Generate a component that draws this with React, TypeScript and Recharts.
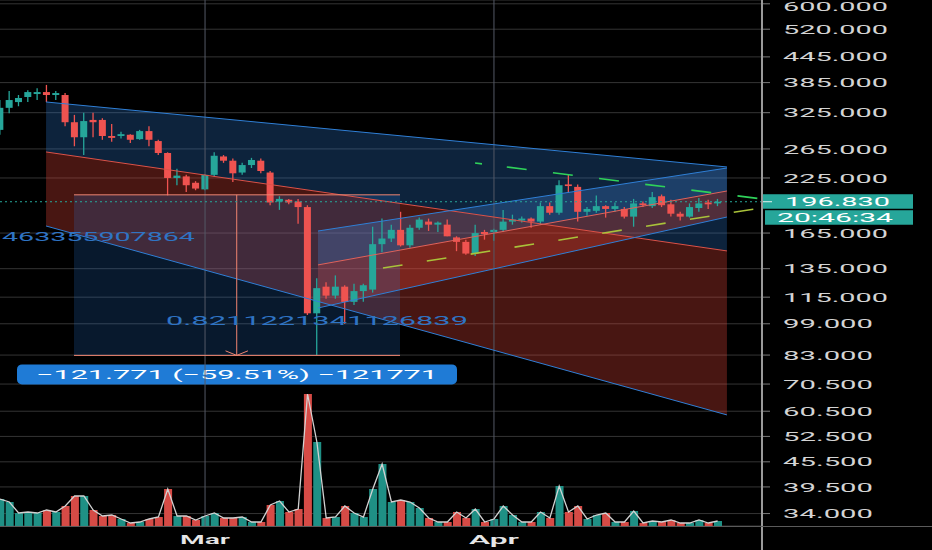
import {
  Area,
  Bar,
  CartesianGrid,
  Cell,
  ComposedChart,
  Line,
  ReferenceArea,
  ReferenceDot,
  ReferenceLine,
  XAxis,
  YAxis,
} from "recharts"

// daily candles, index 0 = Feb 7, index 22 = Mar 1, index 53 = Apr 1
const opens = [
  295, 334, 345, 355, 361, 365, 359, 359, 308, 283, 312, 312, 285, 285, 287, 280, 293, 277, 259, 225,
  227, 219, 211, 229, 254, 248, 232, 242, 248, 232, 197, 199, 197, 191, 105, 122, 116, 122, 112, 119,
  120, 155, 160, 168, 154, 170, 176, 173, 173, 161, 157, 147, 166, 166, 168, 176, 177, 179, 176, 192,
  185, 217, 214, 186, 187, 192, 189, 189, 181, 195, 192, 203, 194, 184, 181, 190, 196, 195,
]
const highs = [
  349, 367, 359, 369, 373, 380, 367, 363, 321, 325, 325, 315, 305, 292, 288, 295, 301, 279, 260, 237,
  229, 221, 230, 260, 256, 251, 245, 252, 251, 234, 203, 200, 200, 193, 128, 125, 130, 123, 124, 124,
  171, 179, 173, 186, 173, 180, 179, 176, 178, 162, 159, 173, 168, 169, 188, 183, 181, 180, 196, 196,
  222, 229, 217, 191, 204, 193, 196, 191, 200, 197, 208, 205, 199, 186, 195, 201, 199, 200,
]
const lows = [
  287, 324, 337, 345, 349, 345, 349, 301, 269, 256, 283, 279, 276, 281, 274, 279, 269, 256, 204, 216,
  208, 210, 210, 227, 245, 220, 229, 238, 231, 193, 188, 194, 174, 104, 83, 114, 114, 99, 110, 112,
  118, 148, 157, 153, 152, 168, 167, 166, 162, 149, 146, 145, 159, 158, 166, 173, 175, 170, 173, 183,
  183, 207, 176, 182, 185, 180, 186, 179, 171, 191, 190, 191, 181, 177, 180, 186, 189, 192,
]
const closes = [
  334, 349, 353, 365, 365, 359, 363, 308, 283, 310, 308, 285, 282, 288, 279, 293, 279, 259, 225, 228,
  216, 212, 229, 255, 248, 231, 242, 249, 234, 196, 200, 196, 191, 105, 121, 116, 122, 112, 119, 123,
  155, 160, 168, 154, 170, 178, 173, 175, 162, 157, 147, 165, 164, 168, 176, 178, 179, 176, 192, 185,
  216, 215, 186, 189, 192, 189, 192, 181, 195, 193, 202, 193, 184, 181, 191, 195, 194, 196.83,
]
const volumes = [
  27, 24, 13, 14, 13, 16, 14, 20, 30, 30, 16, 10, 11, 7, 3, 4, 7, 9, 37, 10,
  10, 6, 10, 13, 8, 8, 9, 4, 4, 21, 25, 14, 17, 132, 84, 8, 9, 20, 13, 9,
  37, 62, 24, 26, 24, 18, 8, 4, 4, 14, 8, 17, 4, 7, 20, 11, 4, 4, 14, 8,
  40, 14, 20, 7, 11, 13, 4, 4, 15, 3, 5, 4, 6, 3, 3, 6, 3, 5,
]

const monthTicks = [22, 53]
const monthLabels = ["Mar", "Apr"]
const priceTicks = [600, 520, 445, 385, 325, 265, 225, 165, 135, 115, 99, 83, 70.5, 60.5, 52.5, 45.5, 39.5, 34]
const lastPrice = 196.83
const countdown = "20:46:34"

// falling channel (day index, price)
const fallX = [4.94, 78.0]
const fallTop = [345.2, 239.4]
const fallMid = [260.5, 149.2]
const fallLow = [171.7, 59.25]
// rising channel
const riseX = [34.12, 78.0]
const riseTop = [166.9, 238.0]
const riseMid = [137.9, 209.1]
const riseLow = [108.2, 180.6]
// price range tool
const rangeX = [7.94, 42.92]
const rangePrice = [82.85, 204.62]
const rangeArrowX = 25.4
const rangeArrowHead = [85.0, 82.85]
const rangeText = "\u2212121.771 (\u221259.51%) \u2212121771"
// dashed trend lines
const greenX = [50.97, 81.76]
const greenY = [244.8, 199.9]
const oliveX = [41.09, 81.76]
const oliveY = [135.5, 190.2]
// leftover drawing labels
const fibTexts = [
  { x: 20.92, y: 161.4, text: "463355907864", anchor: "end", width: 193 },
  { x: 17.81, y: 100.6, text: "0.8211221341126839", anchor: "start", width: 302 },
]

const UP = "#26a69a"
const DOWN = "#ef5350"
const BLUE = "#2f7fd6"
const SALMON = "#f08570"
const FONT = "Roboto, 'DejaVu Sans', sans-serif"
const X_DOMAIN = [0, 81.76]

function Candle(props: any) {
  const { x, y, width, height, payload } = props
  if (!payload || height == null) return null
  const top = Math.min(y, y + height)
  const bottom = Math.max(y, y + height)
  const lh = Math.log(payload.high)
  const ll = Math.log(payload.low)
  const toY = (v: number) => (lh === ll ? top : top + ((bottom - top) * (lh - Math.log(v))) / (lh - ll))
  const up = payload.close >= payload.open
  const color = up ? UP : DOWN
  const cx = x + width / 2
  const bTop = toY(Math.max(payload.open, payload.close))
  const bBot = toY(Math.min(payload.open, payload.close))
  return (
    <g>
      <line x1={cx} x2={cx} y1={top} y2={bottom} stroke={color} strokeWidth={1.3} />
      <rect x={cx - 3.5} y={bTop} width={7} height={Math.max(1.5, bBot - bTop)} fill={color} />
    </g>
  )
}

function PriceTick({ x, y, payload }: any) {
  const s = Number(payload.value).toFixed(3)
  // keep the top label inside the picture
  const base = Math.max(y + 4.6, 10.5)
  return (
    <text x={x} y={base} fill="#d4d4d4" fontSize={12} fontFamily={FONT} textLength={s.length * 15} lengthAdjust="spacingAndGlyphs">
      {s}
    </text>
  )
}

function MonthTick({ x, y, payload }: any) {
  const label = monthLabels[monthTicks.indexOf(payload.value)]
  return (
    <text x={x} y={y + 9.5} textAnchor="middle" fill="#e6e6e6" fontSize={12} fontWeight={600} fontFamily={FONT} textLength={50} lengthAdjust="spacingAndGlyphs">
      {label}
    </text>
  )
}

function LastPriceTag({ viewBox }: any) {
  if (!viewBox) return null
  const left = viewBox.x + viewBox.width
  const y = viewBox.y
  return (
    <g fontFamily={FONT} fontSize={12}>
      <rect x={left} y={y - 7.5} width={151} height={14.5} fill={UP} />
      <line x1={left} x2={left + 10} y1={y} y2={y} stroke="#e8f6f4" strokeWidth={1} />
      <text x={left + 23} y={y + 4.3} fill="#ffffff" textLength={105} lengthAdjust="spacingAndGlyphs">
        {lastPrice.toFixed(3)}
      </text>
      <rect x={left + 3} y={y + 8.5} width={148} height={14.5} fill={UP} />
      <text x={left + 15} y={y + 20.2} fill="#ffffff" textLength={116} lengthAdjust="spacingAndGlyphs">
        {countdown}
      </text>
    </g>
  )
}

function RangeTag({ viewBox }: any) {
  if (!viewBox) return null
  const cx = viewBox.x + viewBox.width / 2
  const top = viewBox.y + viewBox.height + 9
  return (
    <g fontFamily={FONT} fontSize={12}>
      <rect x={cx - 220} y={top} width={440} height={20} rx={5} fill="#1f7bd6" />
      <text x={cx} y={top + 14.3} textAnchor="middle" fill="#ffffff" textLength={402} lengthAdjust="spacingAndGlyphs">
        {rangeText}
      </text>
    </g>
  )
}

function FibText({ viewBox, text, anchor, width }: any) {
  if (!viewBox) return null
  const x = anchor === "end" ? viewBox.x - width : viewBox.x
  return (
    <text x={x} y={viewBox.y + 4.3} fill="#2f74c4" fontSize={12} fontFamily={FONT} textLength={width} lengthAdjust="spacingAndGlyphs">
      {text}
    </text>
  )
}

const seg = (xs: number[], ys: number[]) => [
  { x: xs[0], y: ys[0] },
  { x: xs[1], y: ys[1] },
]

const band = (xs: number[], lo: number[], hi: number[]) => xs.map((x, k) => ({ x, band: [lo[k], hi[k]] }))

export default function App() {
  const data = opens.map((open, i) => ({
    x: i,
    open,
    high: highs[i],
    low: lows[i],
    close: closes[i],
    volume: volumes[i],
  }))

  return (
    <div style={{ position: "fixed", left: 0, top: 0, width: 932, height: 550, background: "#000", fontFamily: FONT }}>
      <ComposedChart width={932} height={550} data={data} margin={{ top: 0, right: 0, bottom: 0, left: 0 }}>
        <CartesianGrid vertical={false} stroke="#343434" yAxisId="price" />
        <XAxis
          dataKey="x"
          type="number"
          domain={X_DOMAIN}
          allowDataOverflow
          ticks={monthTicks}
          interval={0}
          height={24}
          axisLine={false}
          tickLine={false}
          tick={<MonthTick />}
        />
        <XAxis xAxisId="vol" dataKey="x" type="number" domain={X_DOMAIN} allowDataOverflow hide />
        <XAxis xAxisId="draw" dataKey="x" type="number" domain={X_DOMAIN} allowDataOverflow hide />
        <YAxis
          yAxisId="price"
          orientation="right"
          width={170}
          scale="log"
          domain={[31.7, 613]}
          allowDataOverflow
          ticks={priceTicks}
          interval={0}
          tickSize={8}
          tickMargin={13}
          tickLine={{ stroke: "#7a7a7a" }}
          axisLine={false}
          tick={<PriceTick />}
        />
        <YAxis yAxisId="vol" hide domain={[0, 526]} allowDataOverflow />

        <Area xAxisId="draw" data={band(fallX, fallMid, fallTop)} dataKey="band" yAxisId="price" type="linear" stroke="none" fill="#2f7ed8" fillOpacity={0.28} dot={false} activeDot={false} isAnimationActive={false} />
        <Area xAxisId="draw" data={band(fallX, fallLow, fallMid)} dataKey="band" yAxisId="price" type="linear" stroke="none" fill="#f04a3a" fillOpacity={0.3} dot={false} activeDot={false} isAnimationActive={false} />
        <Area xAxisId="draw" data={band(riseX, riseMid, riseTop)} dataKey="band" yAxisId="price" type="linear" stroke="none" fill="#4d93e6" fillOpacity={0.26} dot={false} activeDot={false} isAnimationActive={false} />
        <Area xAxisId="draw" data={band(riseX, riseLow, riseMid)} dataKey="band" yAxisId="price" type="linear" stroke="none" fill="#f04a3a" fillOpacity={0.3} dot={false} activeDot={false} isAnimationActive={false} />

        <ReferenceArea
          yAxisId="price"
          x1={rangeX[0]}
          x2={rangeX[1]}
          y1={rangePrice[0]}
          y2={rangePrice[1]}
          fill="#2a7de1"
          fillOpacity={0.2}
          stroke="none"
          ifOverflow="visible"
          label={<RangeTag />}
        />

        <ReferenceLine x={monthTicks[0]} yAxisId="price" stroke="#545866" />
        <ReferenceLine x={monthTicks[1]} yAxisId="price" stroke="#545866" />

        <ReferenceLine yAxisId="price" segment={seg(fallX, fallTop)} stroke={BLUE} ifOverflow="visible" />
        <ReferenceLine yAxisId="price" segment={seg(fallX, fallMid)} stroke="#dc5248" ifOverflow="visible" />
        <ReferenceLine yAxisId="price" segment={seg(fallX, fallLow)} stroke={BLUE} ifOverflow="visible" />
        <ReferenceLine yAxisId="price" segment={seg(riseX, riseTop)} stroke={BLUE} ifOverflow="visible" />
        <ReferenceLine yAxisId="price" segment={seg(riseX, riseMid)} stroke="#e0625a" ifOverflow="visible" />
        <ReferenceLine yAxisId="price" segment={seg(riseX, riseLow)} stroke={BLUE} ifOverflow="visible" />

        <ReferenceLine yAxisId="price" segment={seg(rangeX, [rangePrice[1], rangePrice[1]])} stroke={SALMON} ifOverflow="visible" />
        <ReferenceLine yAxisId="price" segment={seg(rangeX, [rangePrice[0], rangePrice[0]])} stroke={SALMON} ifOverflow="visible" />
        <ReferenceLine yAxisId="price" segment={seg([rangeArrowX, rangeArrowX], [rangePrice[1], rangePrice[0]])} stroke={SALMON} ifOverflow="visible" />
        <ReferenceLine yAxisId="price" segment={seg([rangeArrowX - 1.2, rangeArrowX], rangeArrowHead)} stroke={SALMON} ifOverflow="visible" />
        <ReferenceLine yAxisId="price" segment={seg([rangeArrowX + 1.2, rangeArrowX], rangeArrowHead)} stroke={SALMON} ifOverflow="visible" />

        <ReferenceLine yAxisId="price" segment={seg(greenX, greenY)} stroke="#2fd25a" strokeWidth={1.6} strokeDasharray="7 25 20 26.5 20 26.5 20 26.5 20 26.5 20 26.5 20 26.5" ifOverflow="visible" />
        <ReferenceLine yAxisId="price" segment={seg(oliveX, oliveY)} stroke="#a9c23a" strokeWidth={1.6} strokeDasharray="19.8 24.6" ifOverflow="visible" />

        <ReferenceLine yAxisId="price" y={lastPrice} stroke={UP} strokeDasharray="2 3" ifOverflow="visible" label={<LastPriceTag />} />

        {fibTexts.map((t) => (
          <ReferenceDot
            key={t.text}
            yAxisId="price"
            x={t.x}
            y={t.y}
            r={0}
            fill="none"
            stroke="none"
            ifOverflow="visible"
            label={<FibText text={t.text} anchor={t.anchor} width={t.width} />}
          />
        ))}

        <Bar xAxisId="vol" yAxisId="vol" dataKey="volume" barSize={8} isAnimationActive={false}>
          {data.map((d, i) => (
            <Cell key={i} fill={d.close >= d.open ? "#1f9085" : "#d64b46"} />
          ))}
        </Bar>
        <Line xAxisId="vol" yAxisId="vol" dataKey="volume" type="linear" stroke="#d2d2d2" strokeWidth={1.3} dot={false} activeDot={false} isAnimationActive={false} />

        <Bar yAxisId="price" dataKey={(d: any) => [d.low, d.high]} barSize={7} shape={(p: any) => <Candle {...p} />} isAnimationActive={false} />
      </ComposedChart>
      <div style={{ position: "absolute", left: 761, top: 0, width: 1.5, height: 550, background: "#9a9a9a" }} />
      <div style={{ position: "absolute", left: 0, top: 526, width: 932, height: 1, background: "#5a5a5a" }} />
    </div>
  )
}
